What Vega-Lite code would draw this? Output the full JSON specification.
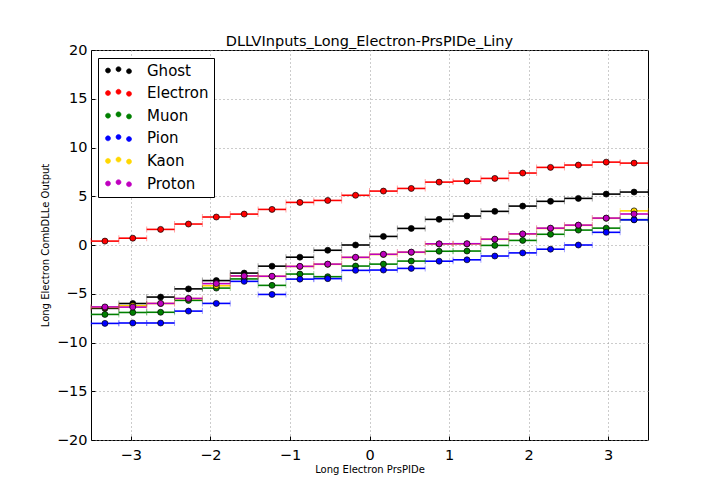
{
  "$schema": "https://vega.github.io/schema/vega-lite/v6.json",
  "description": "DLL inputs per particle type vs Long Electron PrsPIDe, binned with horizontal error bars.",
  "width": 557,
  "height": 390,
  "autosize": {"type": "none"},
  "padding": {"left": 91, "top": 50, "right": 72, "bottom": 64},
  "title": {
    "text": "DLLVInputs_Long_Electron-PrsPIDe_Liny",
    "fontSize": 14.5,
    "fontWeight": "normal",
    "font": "DejaVu Sans",
    "color": "black",
    "offset": -7
  },
  "datasets": {
    "bins": [
      {"bin": 1, "lo": -3.5, "hi": -3.15, "x": -3.325},
      {"bin": 2, "lo": -3.15, "hi": -2.8, "x": -2.975},
      {"bin": 3, "lo": -2.8, "hi": -2.45, "x": -2.625},
      {"bin": 4, "lo": -2.45, "hi": -2.1, "x": -2.275},
      {"bin": 5, "lo": -2.1, "hi": -1.75, "x": -1.925},
      {"bin": 6, "lo": -1.75, "hi": -1.4, "x": -1.575},
      {"bin": 7, "lo": -1.4, "hi": -1.05, "x": -1.225},
      {"bin": 8, "lo": -1.05, "hi": -0.7, "x": -0.875},
      {"bin": 9, "lo": -0.7, "hi": -0.35, "x": -0.525},
      {"bin": 10, "lo": -0.35, "hi": 0, "x": -0.175},
      {"bin": 11, "lo": 0, "hi": 0.35, "x": 0.175},
      {"bin": 12, "lo": 0.35, "hi": 0.7, "x": 0.525},
      {"bin": 13, "lo": 0.7, "hi": 1.05, "x": 0.875},
      {"bin": 14, "lo": 1.05, "hi": 1.4, "x": 1.225},
      {"bin": 15, "lo": 1.4, "hi": 1.75, "x": 1.575},
      {"bin": 16, "lo": 1.75, "hi": 2.1, "x": 1.925},
      {"bin": 17, "lo": 2.1, "hi": 2.45, "x": 2.275},
      {"bin": 18, "lo": 2.45, "hi": 2.8, "x": 2.625},
      {"bin": 19, "lo": 2.8, "hi": 3.15, "x": 2.975},
      {"bin": 20, "lo": 3.15, "hi": 3.5, "x": 3.325}
    ],
    "dll": [
      {"p": "Ghost", "bin": 1, "y": -6.5},
      {"p": "Ghost", "bin": 2, "y": -6.0},
      {"p": "Ghost", "bin": 3, "y": -5.34},
      {"p": "Ghost", "bin": 4, "y": -4.5},
      {"p": "Ghost", "bin": 5, "y": -3.65},
      {"p": "Ghost", "bin": 6, "y": -2.88},
      {"p": "Ghost", "bin": 7, "y": -2.17},
      {"p": "Ghost", "bin": 8, "y": -1.25},
      {"p": "Ghost", "bin": 9, "y": -0.54},
      {"p": "Ghost", "bin": 10, "y": 0.0},
      {"p": "Ghost", "bin": 11, "y": 0.88},
      {"p": "Ghost", "bin": 12, "y": 1.7},
      {"p": "Ghost", "bin": 13, "y": 2.63},
      {"p": "Ghost", "bin": 14, "y": 2.97},
      {"p": "Ghost", "bin": 15, "y": 3.45},
      {"p": "Ghost", "bin": 16, "y": 3.99},
      {"p": "Ghost", "bin": 17, "y": 4.48},
      {"p": "Ghost", "bin": 18, "y": 4.78},
      {"p": "Ghost", "bin": 19, "y": 5.22},
      {"p": "Ghost", "bin": 20, "y": 5.43},
      {"p": "Electron", "bin": 1, "y": 0.4},
      {"p": "Electron", "bin": 2, "y": 0.7},
      {"p": "Electron", "bin": 3, "y": 1.6},
      {"p": "Electron", "bin": 4, "y": 2.15},
      {"p": "Electron", "bin": 5, "y": 2.87},
      {"p": "Electron", "bin": 6, "y": 3.17},
      {"p": "Electron", "bin": 7, "y": 3.65},
      {"p": "Electron", "bin": 8, "y": 4.37},
      {"p": "Electron", "bin": 9, "y": 4.57},
      {"p": "Electron", "bin": 10, "y": 5.1},
      {"p": "Electron", "bin": 11, "y": 5.53},
      {"p": "Electron", "bin": 12, "y": 5.8},
      {"p": "Electron", "bin": 13, "y": 6.45},
      {"p": "Electron", "bin": 14, "y": 6.55},
      {"p": "Electron", "bin": 15, "y": 6.83},
      {"p": "Electron", "bin": 16, "y": 7.38},
      {"p": "Electron", "bin": 17, "y": 7.96},
      {"p": "Electron", "bin": 18, "y": 8.2},
      {"p": "Electron", "bin": 19, "y": 8.5},
      {"p": "Electron", "bin": 20, "y": 8.4},
      {"p": "Muon", "bin": 1, "y": -7.12},
      {"p": "Muon", "bin": 2, "y": -6.92},
      {"p": "Muon", "bin": 3, "y": -6.9},
      {"p": "Muon", "bin": 4, "y": -5.68},
      {"p": "Muon", "bin": 5, "y": -4.42},
      {"p": "Muon", "bin": 6, "y": -3.48},
      {"p": "Muon", "bin": 7, "y": -4.14},
      {"p": "Muon", "bin": 8, "y": -2.98},
      {"p": "Muon", "bin": 9, "y": -3.25},
      {"p": "Muon", "bin": 10, "y": -2.16},
      {"p": "Muon", "bin": 11, "y": -1.96},
      {"p": "Muon", "bin": 12, "y": -1.65},
      {"p": "Muon", "bin": 13, "y": -0.64},
      {"p": "Muon", "bin": 14, "y": -0.62},
      {"p": "Muon", "bin": 15, "y": -0.04},
      {"p": "Muon", "bin": 16, "y": 0.47},
      {"p": "Muon", "bin": 17, "y": 1.1},
      {"p": "Muon", "bin": 18, "y": 1.53},
      {"p": "Muon", "bin": 19, "y": 1.73},
      {"p": "Muon", "bin": 20, "y": 2.6},
      {"p": "Pion", "bin": 1, "y": -8.04},
      {"p": "Pion", "bin": 2, "y": -8.0},
      {"p": "Pion", "bin": 3, "y": -8.0},
      {"p": "Pion", "bin": 4, "y": -6.78},
      {"p": "Pion", "bin": 5, "y": -5.99},
      {"p": "Pion", "bin": 6, "y": -3.73},
      {"p": "Pion", "bin": 7, "y": -5.07},
      {"p": "Pion", "bin": 8, "y": -3.5},
      {"p": "Pion", "bin": 9, "y": -3.45},
      {"p": "Pion", "bin": 10, "y": -2.6},
      {"p": "Pion", "bin": 11, "y": -2.57},
      {"p": "Pion", "bin": 12, "y": -2.4},
      {"p": "Pion", "bin": 13, "y": -1.66},
      {"p": "Pion", "bin": 14, "y": -1.52},
      {"p": "Pion", "bin": 15, "y": -1.13},
      {"p": "Pion", "bin": 16, "y": -0.81},
      {"p": "Pion", "bin": 17, "y": -0.43},
      {"p": "Pion", "bin": 18, "y": 0.0},
      {"p": "Pion", "bin": 19, "y": 1.3},
      {"p": "Pion", "bin": 20, "y": 2.58},
      {"p": "Kaon", "bin": 1, "y": -6.4},
      {"p": "Kaon", "bin": 2, "y": -6.23},
      {"p": "Kaon", "bin": 3, "y": -6.0},
      {"p": "Kaon", "bin": 4, "y": -5.5},
      {"p": "Kaon", "bin": 5, "y": -4.18},
      {"p": "Kaon", "bin": 6, "y": -3.2},
      {"p": "Kaon", "bin": 7, "y": -3.22},
      {"p": "Kaon", "bin": 8, "y": -2.2},
      {"p": "Kaon", "bin": 9, "y": -1.98},
      {"p": "Kaon", "bin": 10, "y": -1.28},
      {"p": "Kaon", "bin": 11, "y": -0.97},
      {"p": "Kaon", "bin": 12, "y": -0.75},
      {"p": "Kaon", "bin": 13, "y": 0.1},
      {"p": "Kaon", "bin": 14, "y": 0.11},
      {"p": "Kaon", "bin": 15, "y": 0.58},
      {"p": "Kaon", "bin": 16, "y": 1.12},
      {"p": "Kaon", "bin": 17, "y": 1.7},
      {"p": "Kaon", "bin": 18, "y": 2.02},
      {"p": "Kaon", "bin": 19, "y": 2.74},
      {"p": "Kaon", "bin": 20, "y": 3.5},
      {"p": "Proton", "bin": 1, "y": -6.35},
      {"p": "Proton", "bin": 2, "y": -6.37},
      {"p": "Proton", "bin": 3, "y": -5.99},
      {"p": "Proton", "bin": 4, "y": -5.48},
      {"p": "Proton", "bin": 5, "y": -3.96},
      {"p": "Proton", "bin": 6, "y": -3.17},
      {"p": "Proton", "bin": 7, "y": -3.2},
      {"p": "Proton", "bin": 8, "y": -2.19},
      {"p": "Proton", "bin": 9, "y": -1.96},
      {"p": "Proton", "bin": 10, "y": -1.26},
      {"p": "Proton", "bin": 11, "y": -0.95},
      {"p": "Proton", "bin": 12, "y": -0.73},
      {"p": "Proton", "bin": 13, "y": 0.12},
      {"p": "Proton", "bin": 14, "y": 0.13},
      {"p": "Proton", "bin": 15, "y": 0.6},
      {"p": "Proton", "bin": 16, "y": 1.14},
      {"p": "Proton", "bin": 17, "y": 1.73},
      {"p": "Proton", "bin": 18, "y": 2.04},
      {"p": "Proton", "bin": 19, "y": 2.76},
      {"p": "Proton", "bin": 20, "y": 3.18}
    ]
  },
  "data": {"name": "dll"},
  "transform": [
    {"lookup": "bin", "from": {"data": {"name": "bins"}, "key": "bin", "fields": ["lo", "hi", "x"]}}
  ],
  "encoding": {
    "y": {
      "field": "y",
      "type": "quantitative",
      "scale": {"domain": [-20, 20], "nice": false, "zero": false},
      "axis": {
        "title": "Long Electron CombDLLe Output",
        "values": [-20, -15, -10, -5, 0, 5, 10, 15, 20],
        "format": "d",
        "titlePadding": 6
      }
    },
    "color": {
      "field": "p",
      "type": "nominal",
      "scale": {
        "domain": ["Ghost", "Electron", "Muon", "Pion", "Kaon", "Proton"],
        "range": ["#000000", "#ff0000", "#008000", "#0000ff", "#ffd700", "#bf00bf"]
      },
      "legend": {
        "title": null,
        "orient": "none",
        "legendX": 7,
        "legendY": 8,
        "padding": 5,
        "strokeColor": "black",
        "fillColor": "white",
        "cornerRadius": 0,
        "labelFontSize": 15,
        "labelFont": "DejaVu Sans",
        "labelColor": "black",
        "labelOffset": 21,
        "symbolOffset": 8,
        "rowPadding": 6.6,
        "symbolSize": 144,
        "symbolType": "M-2.17,0A0.42,0.42 0 1,0 -1.33,0A0.42,0.42 0 1,0 -2.17,0Z M-0.42,-0.22A0.42,0.42 0 1,0 0.42,-0.22A0.42,0.42 0 1,0 -0.42,-0.22Z M1.33,0.12A0.42,0.42 0 1,0 2.17,0.12A0.42,0.42 0 1,0 1.33,0.12Z",
        "symbolStrokeColor": "black",
        "symbolStrokeWidth": 0.6,
        "symbolOpacity": 1,
        "encode": {
          "symbols": {
            "update": {
              "fill": {"scale": "color", "field": "value"},
              "stroke": {"value": "black"},
              "strokeWidth": {"value": 0.6},
              "opacity": {"value": 1}
            }
          }
        }
      }
    }
  },
  "layer": [
    {
      "mark": {"type": "rule", "strokeWidth": 1.6},
      "encoding": {
        "x": {
          "field": "lo",
          "type": "quantitative",
          "scale": {"domain": [-3.5, 3.5], "nice": false, "zero": false},
          "axis": {
            "title": "Long Electron PrsPIDe",
            "values": [-3, -2, -1, 0, 1, 2, 3],
            "format": "d",
            "titlePadding": 3
          }
        },
        "x2": {"field": "hi"}
      }
    },
    {
      "mark": {"type": "tick", "orient": "vertical", "size": 6, "thickness": 1, "opacity": 0.35},
      "encoding": {"x": {"field": "lo", "type": "quantitative"}}
    },
    {
      "mark": {"type": "tick", "orient": "vertical", "size": 6, "thickness": 1, "opacity": 0.35},
      "encoding": {"x": {"field": "hi", "type": "quantitative"}}
    },
    {
      "mark": {"type": "point", "shape": "circle", "filled": true, "size": 36, "stroke": "black", "strokeWidth": 0.7, "opacity": 1},
      "encoding": {"x": {"field": "x", "type": "quantitative"}}
    }
  ],
  "config": {
    "font": "DejaVu Sans",
    "view": {"stroke": "black", "strokeWidth": 1},
    "axis": {
      "zindex": 1,
      "domain": false,
      "grid": true,
      "gridColor": "#999999",
      "gridDash": [1, 3],
      "gridWidth": 1,
      "gridOpacity": 1,
      "ticks": true,
      "tickColor": "black",
      "tickSize": -4,
      "tickWidth": 1,
      "labelFont": "DejaVu Sans",
      "labelFontSize": 14.5,
      "labelColor": "black",
      "labelPadding": 12,
      "titleFont": "DejaVu Sans",
      "titleFontSize": 10,
      "titleFontWeight": "normal",
      "titleColor": "black"
    },
    "axisX": {"labelFlush": false},
    "axisY": {"labelPadding": 8}
  }
}
